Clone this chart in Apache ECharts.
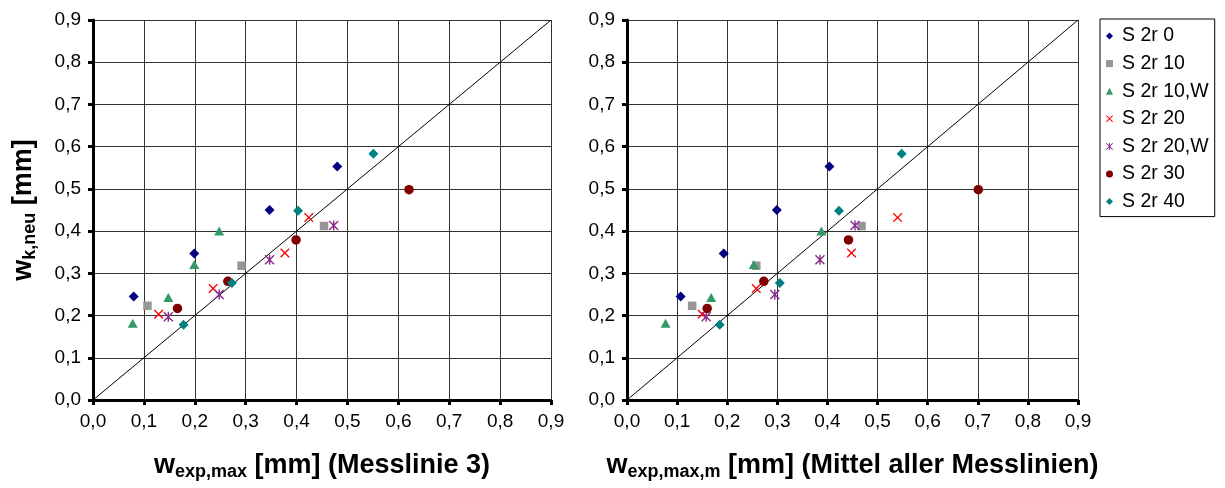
<!DOCTYPE html>
<html>
<head>
<meta charset="utf-8">
<script src="https://cdn.jsdelivr.net/npm/echarts@6/dist/echarts.min.js"></script>
<style>
  html, body { margin: 0; padding: 0; background: #fff; }
  #chart { width: 1225px; height: 488px; }
</style>
</head>
<body>
<div id="chart"></div>
<script>
// Series names (test specimens)
const seriesNames = ['S 2r 0', 'S 2r 10', 'S 2r 10,W', 'S 2r 20', 'S 2r 20,W', 'S 2r 30', 'S 2r 40'];

// Calculated crack width w_k,neu [mm], one list per specimen
const wkNeu = [
  [0.245, 0.347, 0.450, 0.553],
  [0.223, 0.318, 0.412],
  [0.182, 0.243, 0.321, 0.400],
  [0.203, 0.264, 0.348, 0.432],
  [0.197, 0.250, 0.332, 0.413],
  [0.217, 0.281, 0.379, 0.498],
  [0.178, 0.277, 0.448, 0.583]
];

// Measured max. crack width, measuring line 3 [mm]
const wExpMaxML3 = [
  [0.080, 0.199, 0.347, 0.480],
  [0.107, 0.292, 0.454],
  [0.078, 0.148, 0.199, 0.248],
  [0.129, 0.236, 0.377, 0.424],
  [0.148, 0.248, 0.347, 0.473],
  [0.166, 0.265, 0.399, 0.621],
  [0.178, 0.273, 0.403, 0.551]
];

// Measured max. crack width, mean of all measuring lines [mm]
const wExpMaxMittel = [
  [0.107, 0.193, 0.299, 0.404],
  [0.130, 0.258, 0.468],
  [0.077, 0.168, 0.253, 0.388],
  [0.150, 0.258, 0.448, 0.540],
  [0.158, 0.295, 0.385, 0.455],
  [0.160, 0.273, 0.442, 0.701],
  [0.185, 0.305, 0.423, 0.548]
];

// Axis tick labels (German decimal comma)
const tickLabels = ['0,0', '0,1', '0,2', '0,3', '0,4', '0,5', '0,6', '0,7', '0,8', '0,9'];

// Line of equality w_k,neu = w_exp
const equalityLine = [[0, 0], [0.9, 0.9]];

const FONT = 'Arial, "Liberation Sans", sans-serif';

// Marker shapes
const xPath = 'path://M0,10L10,0L50,40L90,0L100,10L60,50L100,90L90,100L50,60L10,100L0,90L40,50Z';
const starPath = 'path://M0,10L10,0L50,40L90,0L100,10L60,50L100,90L90,100L50,60L10,100L0,90L40,50Z M43,0L57,0L57,100L43,100Z';

const markers = [
  { symbol: 'diamond', size: 10, color: '#000080' },
  { symbol: 'rect', size: 8.5, color: '#969696' },
  { symbol: 'triangle', size: [10, 9], color: '#339966' },
  { symbol: xPath, size: 9.5, color: '#ff0000' },
  { symbol: starPath, size: 10, color: '#8a2a8a' },
  { symbol: 'circle', size: 9.5, color: '#800000' },
  { symbol: 'diamond', size: 10, color: '#008080' }
];

const nameRich = {
  b: { fontSize: 27, fontWeight: 'bold', fontFamily: FONT, color: '#000' },
  s: { fontSize: 18, fontWeight: 'bold', fontFamily: FONT, color: '#000', padding: [13, 0, 0, 0] }
};

function valueAxis(gridIndex, extra) {
  return Object.assign({
    type: 'value',
    gridIndex: gridIndex,
    min: 0,
    max: 0.9,
    interval: 0.1,
    axisLine: { show: true, onZero: false, lineStyle: { color: '#000', width: 3 } },
    axisTick: { show: true, inside: false, length: 5, lineStyle: { color: '#000', width: 3 } },
    splitLine: { show: true, lineStyle: { color: '#333', width: 1 } },
    axisLabel: {
      fontSize: 19, fontFamily: FONT, color: '#000', margin: 12,
      formatter: (v, i) => tickLabels[i]
    }
  }, extra);
}

const xAxes = [
  valueAxis(0, {
    name: '{b|w}{s|exp,max}{b| [mm] (Messlinie 3)}',
    nameLocation: 'middle', nameGap: 50,
    nameTextStyle: { rich: nameRich }
  }),
  valueAxis(1, {
    name: '{b|w}{s|exp,max,m}{b| [mm] (Mittel aller Messlinien)}',
    nameLocation: 'middle', nameGap: 50,
    nameTextStyle: { rich: nameRich }
  })
];

const yAxes = [
  valueAxis(0, {
    name: '{b|w}{s|k,neu}{b| [mm]}',
    nameLocation: 'middle', nameRotate: 90, nameGap: 54,
    nameTextStyle: { rich: nameRich }
  }),
  valueAxis(1, {})
];

function pairs(xs, ys) {
  return xs.map((x, i) => [x, ys[i]]);
}

const series = [];
[wExpMaxML3, wExpMaxMittel].forEach((xSet, g) => {
  series.push({
    type: 'line',
    xAxisIndex: g, yAxisIndex: g,
    data: equalityLine,
    showSymbol: false,
    silent: true,
    z: 1,
    lineStyle: { color: '#000', width: 1 }
  });
  seriesNames.forEach((name, k) => {
    const m = markers[k];
    series.push({
      type: 'scatter',
      name: name,
      xAxisIndex: g, yAxisIndex: g,
      data: pairs(xSet[k], wkNeu[k]),
      symbol: m.symbol,
      symbolSize: m.size,
      symbolKeepAspect: true,
      itemStyle: { color: m.color, opacity: 1 },
      z: 3
    });
  });
});

const chart = echarts.init(document.getElementById('chart'), null, { renderer: 'canvas' });
chart.setOption({
  animation: false,
  backgroundColor: '#fff',
  grid: [
    { left: 93, right: 674, top: 20, bottom: 88 },
    { left: 627, right: 147, top: 20, bottom: 88 }
  ],
  xAxis: xAxes,
  yAxis: yAxes,
  legend: {
    orient: 'vertical',
    left: 1100,
    top: 19,
    data: seriesNames,
    itemWidth: 7,
    itemHeight: 7,
    itemGap: 7.6,
    padding: [7, 6, 5, 6],
    borderColor: '#000',
    borderWidth: 1,
    textStyle: { fontSize: 19.5, fontFamily: FONT, color: '#000', lineHeight: 20, padding: [0, 0, 0, 4] }
  },
  series: series
});
</script>
</body>
</html>
